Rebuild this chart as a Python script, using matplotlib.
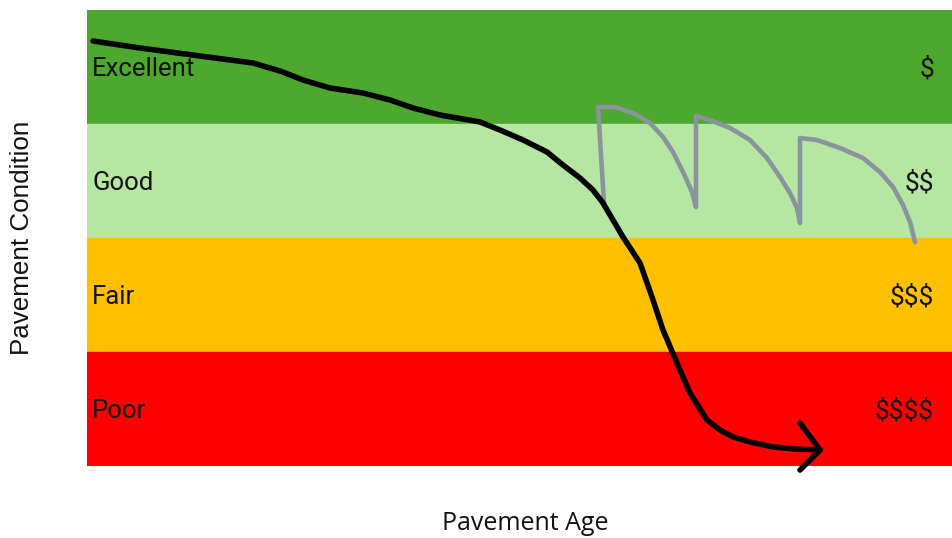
import matplotlib.pyplot as plt

# band layout in picture units (x: pavement age, y: condition, 0 = top)
band_names = ['Excellent', 'Good', 'Fair', 'Poor']
band_costs = ['$', '$$', '$$$', '$$$$']
band_colors = ['#4EA72E', '#B5E6A2', '#FFC000', '#FF0000']
band_tops = [10, 124, 238, 352]
band_height = 114

# deterioration curve without maintenance
decay_x = [93, 140, 200, 253, 280, 303, 330, 363, 390, 413, 440, 480, 500, 523, 547,
           563, 580, 593, 603, 613, 623, 640, 652, 663, 677, 690, 707, 720, 733,
           750, 773, 795, 820]
decay_y = [41, 48, 56, 63, 71, 80, 88, 93, 100, 108, 115, 122, 130, 140, 152,
           165, 178, 190, 203, 220, 237, 263, 297, 330, 363, 393, 420, 430, 437,
           442, 447, 449, 450]

# arrow head
head_x = [800, 820, 800]
head_y = [423, 450, 470]

# maintained pavement (sawtooth)
maint_x = [604, 598, 615, 633, 650, 663, 673, 683, 692, 696,
           696, 710, 730, 750, 767, 780, 790, 797, 800,
           800, 817, 840, 863, 880, 893, 903, 910, 915]
maint_y = [203, 107, 107, 113, 123, 137, 152, 172, 192, 207,
           116, 120, 128, 140, 158, 177, 193, 208, 223,
           138, 140, 148, 158, 172, 187, 205, 222, 242]

fig = plt.figure(figsize=(9.52, 5.38), dpi=100)
ax = fig.add_axes([87 / 952, 72 / 538, 865 / 952, 456 / 538])
ax.set_xlim(87, 952)
ax.set_ylim(466, 10)
ax.axis('off')

for name, cost, color, top in zip(band_names, band_costs, band_colors, band_tops):
    ax.axhspan(top, top + band_height, color=color, zorder=0)
    mid = top + band_height / 2 + 2
    ax.text(92, mid, name, fontsize=18.5, family='Roboto', va='center', ha='left', color='#111111')
    ax.text(934, mid, cost, fontsize=19, family='Roboto', va='center', ha='right',
            color='#111111', parse_math=False)

ax.plot(maint_x, maint_y, color='#8A949C', lw=3.3, solid_capstyle='round',
        solid_joinstyle='round', zorder=2)
ax.plot(decay_x, decay_y, color='black', lw=4, solid_capstyle='round',
        solid_joinstyle='round', zorder=3)
ax.plot(head_x, head_y, color='black', lw=4, solid_capstyle='round',
        solid_joinstyle='round', zorder=3, clip_on=False)

fig.text(22 / 952, 1 - 238 / 538, 'Pavement Condition', rotation=90, fontsize=18.7,
         family='Liberation Sans', va='center', ha='center', color='#111111')
fig.text(525 / 952, 1 - 524 / 538, 'Pavement Age', fontsize=18, family='Open Sans',
         va='center', ha='center', color='#111111')

fig.savefig('out.png', dpi=100)
